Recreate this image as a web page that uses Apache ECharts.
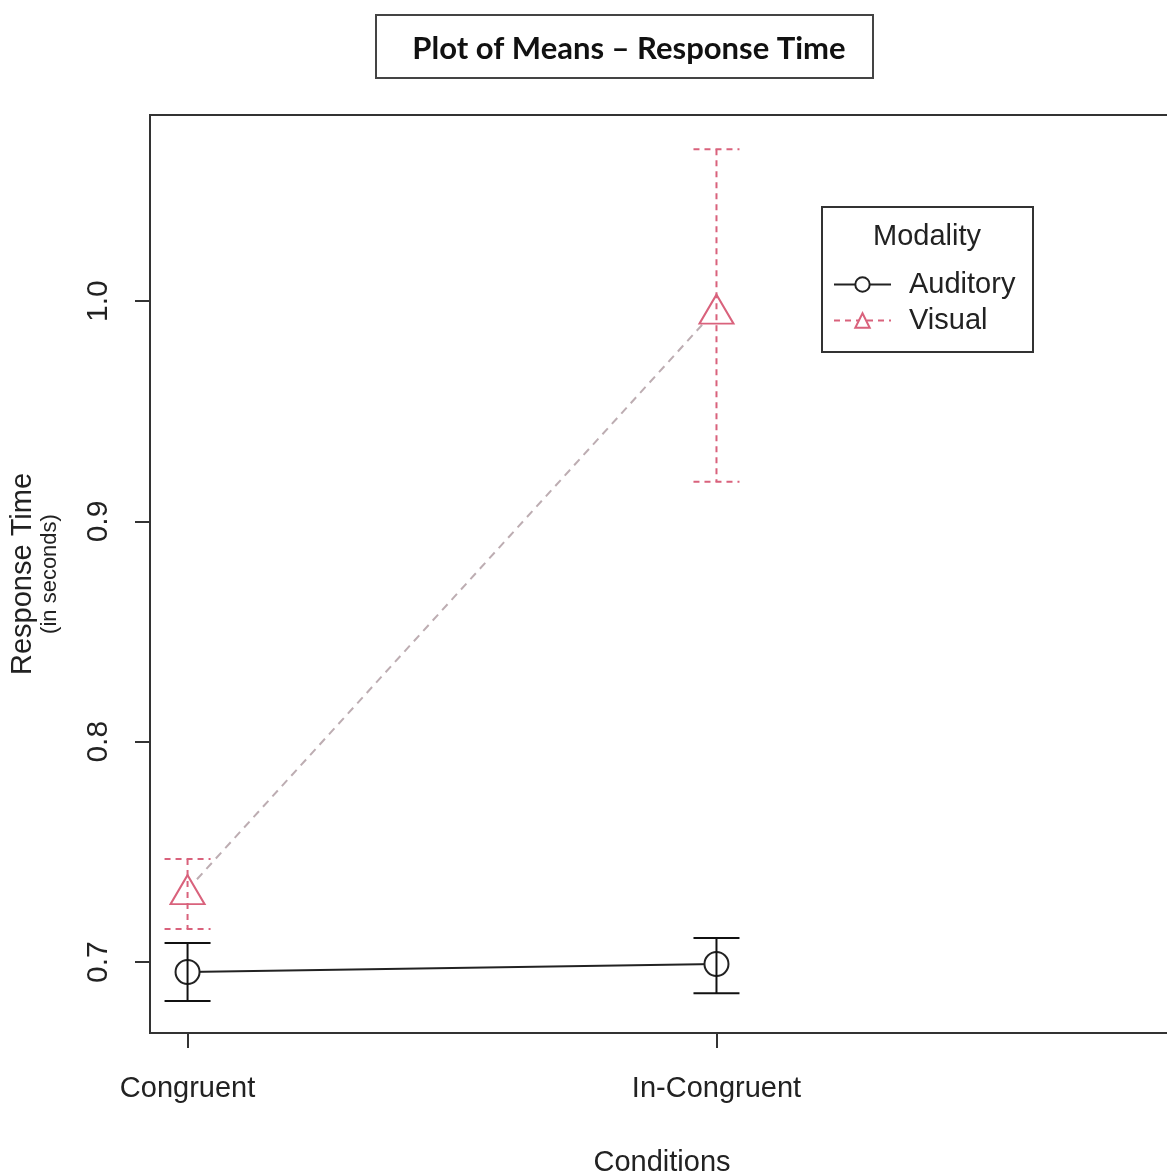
<!DOCTYPE html>
<html>
<head>
<meta charset="utf-8">
<style>
html,body{margin:0;padding:0;background:#fff;}
#chart{width:1167px;height:1176px;}
</style>
<script src="https://cdn.jsdelivr.net/npm/echarts@6/dist/echarts.min.js"></script>
</head>
<body>
<div id="chart"></div>
<script>
// ---- data ----
const categories = ['Congruent', 'In-Congruent'];
const categoryPositions = [1, 2];
const auditoryMean  = [0.6955, 0.6991];
const auditoryLower = [0.6823, 0.6859];
const auditoryUpper = [0.7086, 0.7109];
const visualMean  = [0.7329, 0.9964];
const visualLower = [0.7150, 0.9180];
const visualUpper = [0.7468, 1.0690];
const yTicks = [0.7, 0.8, 0.9, 1.0];

const FONT = '"Liberation Sans", Arial, sans-serif';
const PINK = '#d9627c';
const VLINE = '#bdadb2';

const chart = echarts.init(document.getElementById('chart'), null, {renderer: 'canvas'});

function pts(mean) { return categoryPositions.map((x, i) => [x, mean[i]]); }
function bars(lo, hi) { return categoryPositions.map((x, i) => [x, lo[i], hi[i]]); }

function errorBar(color, dash) {
  return function (params, api) {
    const x = api.value(0);
    const top = api.coord([x, api.value(2)]);
    const bot = api.coord([x, api.value(1)]);
    const half = 23;
    const style = {stroke: color, lineWidth: 2, lineDash: dash, fill: null};
    return {
      type: 'group',
      children: [
        {type: 'line', shape: {x1: top[0], y1: top[1], x2: bot[0], y2: bot[1]}, style: style},
        {type: 'line', shape: {x1: top[0] - half, y1: top[1], x2: top[0] + half, y2: top[1]}, style: style},
        {type: 'line', shape: {x1: bot[0] - half, y1: bot[1], x2: bot[0] + half, y2: bot[1]}, style: style}
      ]
    };
  };
}

const option = {
  backgroundColor: '#fff',
  animation: false,
  title: [
    {
      text: 'Plot of Means \u2013 Response Time',
      left: 624, top: 28, textAlign: 'center',
      textStyle: {fontFamily: 'Lato, "Open Sans", sans-serif', fontWeight: 'bold', fontSize: 31, color: '#111'}
    },
    {
      text: 'Modality',
      left: 922, top: 217, textAlign: 'center',
      textStyle: {fontFamily: FONT, fontWeight: 'normal', fontSize: 29, color: '#222'}
    }
  ],
  legend: {
    orient: 'vertical',
    left: 828, top: 263,
    itemWidth: 57, itemHeight: 18, itemGap: 3,
    textStyle: {fontFamily: FONT, fontSize: 29, color: '#222', lineHeight: 33, padding: [0, 0, 0, 13]},
    data: [
      {name: 'Auditory', lineStyle: {color: '#222', width: 2, type: 'solid'}, itemStyle: {color: '#fff', borderColor: '#222', borderWidth: 2}},
      {name: 'Visual', lineStyle: {color: PINK, width: 2, type: [6, 5]}, itemStyle: {color: '#fff', borderColor: PINK, borderWidth: 2}}
    ]
  },
  graphic: [
    {type: 'rect', shape: {x: 376, y: 15, width: 497, height: 63}, style: {fill: null, stroke: '#444', lineWidth: 2}, z: 10},
    {type: 'rect', shape: {x: 822, y: 207, width: 211, height: 145}, style: {fill: null, stroke: '#333', lineWidth: 2}, z: 10}
  ],
  grid: {
    left: 150, top: 115, width: 1024, bottom: 143,
    show: true, borderColor: '#333', borderWidth: 2, backgroundColor: 'transparent',
    containLabel: false,
    outerBoundsMode: 'none'
  },
  xAxis: {
    type: 'value',
    min: 0.929, max: 2.865,
    splitLine: {show: false},
    axisLine: {show: false},
    axisTick: {show: true, inside: false, length: 15, lineStyle: {color: '#333', width: 2}, customValues: categoryPositions},
    axisLabel: {
      customValues: categoryPositions,
      formatter: v => categories[categoryPositions.indexOf(Math.round(v))] || '',
      fontFamily: FONT, fontSize: 29, color: '#222', margin: 41
    },
    name: 'Conditions',
    nameLocation: 'middle',
    nameGap: 115,
    nameTextStyle: {fontFamily: FONT, fontSize: 29, color: '#222'}
  },
  yAxis: {
    type: 'value',
    min: 0.6678, max: 1.0845,
    splitLine: {show: false},
    axisLine: {show: false},
    axisTick: {show: true, inside: false, length: 15, lineStyle: {color: '#333', width: 2}, customValues: yTicks},
    axisLabel: {
      customValues: yTicks,
      formatter: v => v.toFixed(1),
      rotate: 90,
      fontFamily: FONT, fontSize: 30, color: '#222', margin: 36
    },
    name: '{a|Response Time}\n{b|(in seconds)}',
    nameLocation: 'middle',
    nameRotate: 90,
    nameGap: 88,
    nameTextStyle: {
      fontFamily: FONT, color: '#222', align: 'center',
      rich: {
        a: {fontFamily: FONT, fontSize: 29, color: '#222', lineHeight: 30, align: 'center'},
        b: {fontFamily: FONT, fontSize: 22, color: '#222', lineHeight: 24, align: 'center'}
      }
    }
  },
  series: [
    {
      name: 'Auditory',
      type: 'line',
      data: pts(auditoryMean),
      symbol: 'circle',
      symbolSize: 24,
      lineStyle: {color: '#222', width: 2},
      itemStyle: {color: '#fff', borderColor: '#222', borderWidth: 2},
      z: 3
    },
    {
      name: 'Visual',
      type: 'line',
      data: pts(visualMean),
      symbol: 'triangle',
      symbolSize: [34, 29],
      lineStyle: {color: VLINE, width: 2, type: [8, 6]},
      itemStyle: {color: '#fff', borderColor: PINK, borderWidth: 2},
      z: 3
    },
    {
      name: 'Auditory',
      type: 'custom',
      data: bars(auditoryLower, auditoryUpper),
      encode: {x: 0, y: [1, 2]},
      renderItem: errorBar('#111', null),
      z: 5
    },
    {
      name: 'Visual',
      type: 'custom',
      data: bars(visualLower, visualUpper),
      encode: {x: 0, y: [1, 2]},
      renderItem: errorBar(PINK, [6, 5]),
      z: 5
    }
  ]
};

chart.setOption(option);
</script>
</body>
</html>
